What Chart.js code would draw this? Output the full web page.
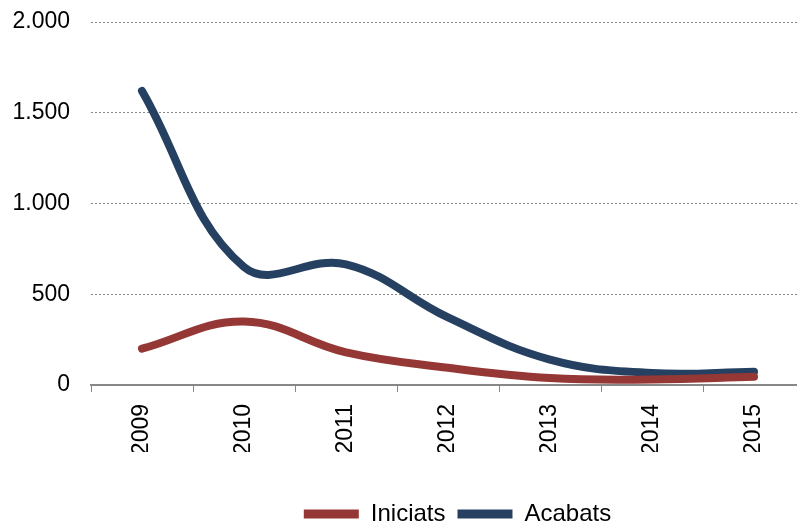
<!DOCTYPE html>
<html>
<head>
<meta charset="utf-8">
<script src="https://cdn.jsdelivr.net/npm/chart.js@4.4.1/dist/chart.umd.min.js"></script>
<style>
    html, body { margin: 0; padding: 0; background: #fff; overflow: hidden; }
    #wrap { position: relative; width: 914px; height: 521px; }
</style>
</head>
<body>
<div id="wrap"><canvas id="lineChart"></canvas></div>
<script>
// dades llegides del gràfic
const years = ['2009', '2010', '2011', '2012', '2013', '2014', '2015'];
const iniciats = [200, 350, 180, 95, 38, 30, 45];
const acabats = [1620, 650, 665, 372, 140, 66, 73];
const yTicks = [0, 500, 1000, 1500, 2000];

function fmtThousands(v) {
    return String(v).replace(/\B(?=(\d{3})+(?!\d))/g, '.');
}

// desplaça la llegenda (centrada respecte l'àrea del gràfic original)
const legendShift = {
    id: 'legendShift',
    afterLayout(chart, args, opts) {
        const lg = chart.legend;
        if (!lg) return;
        lg.left += opts.dx; lg.right += opts.dx;
        lg.top += opts.dy; lg.bottom += opts.dy;
    }
};

document.addEventListener('DOMContentLoaded', function() {
    const ctx = document.getElementById('lineChart').getContext('2d');
    const family = '"Liberation Sans", Arial, sans-serif';
    const font = { family: family, size: 23 };

    new Chart(ctx, {
        type: 'line',
        data: {
            labels: years,
            datasets: [
                {
                    label: 'Iniciats',
                    data: iniciats,
                    borderColor: '#953735',
                    backgroundColor: '#953735',
                    borderWidth: 8,
                    borderCapStyle: 'round',
                    pointRadius: 0,
                    tension: 0.4
                },
                {
                    label: 'Acabats',
                    data: acabats,
                    borderColor: '#254061',
                    backgroundColor: '#254061',
                    borderWidth: 8,
                    borderCapStyle: 'round',
                    pointRadius: 0,
                    tension: 0.4
                }
            ]
        },
        plugins: [legendShift],
        options: {
            responsive: true,
            maintainAspectRatio: false,
            animation: false,
            layout: { padding: { left: 10, right: 109, top: 22, bottom: 23 } },
            plugins: {
                tooltip: { enabled: false },
                legendShift: { dx: 50, dy: 38 },
                legend: {
                    position: 'bottom',
                    labels: {
                        font: { family: family, size: 24 },
                        color: '#000',
                        boxWidth: 55,
                        boxHeight: 9,
                        useBorderRadius: true,
                        borderRadius: 4,
                        padding: 12,
                        generateLabels: function(chart) {
                            return chart.data.datasets.map((ds, i) => ({
                                text: ds.label,
                                fillStyle: ds.borderColor,
                                strokeStyle: ds.borderColor,
                                lineWidth: 0,
                                fontColor: '#000',
                                datasetIndex: i
                            }));
                        }
                    }
                }
            },
            scales: {
                x: {
                    offset: true,
                    afterFit: function(axis) {
                        axis.height = 67;
                        axis.paddingLeft = 0; axis.paddingRight = 0;
                    },
                    grid: { drawOnChartArea: false, drawTicks: true, tickLength: 7, color: '#888', offset: true },
                    border: { display: true, color: '#888', width: 2 },
                    ticks: { font: font, color: '#000', minRotation: 90, maxRotation: 90, padding: 12 }
                },
                y: {
                    min: 0,
                    max: 2000,
                    afterFit: function(axis) {
                        axis.width = 81;
                        axis.paddingTop = 0; axis.paddingBottom = 0;
                    },
                    afterBuildTicks: function(axis) {
                        axis.ticks = yTicks.map(v => ({ value: v }));
                    },
                    grid: { drawTicks: false, color: '#888', lineWidth: 1 },
                    border: { display: false, dash: [2, 2] },
                    ticks: {
                        font: font,
                        color: '#000',
                        padding: 21,
                        callback: function(value) { return fmtThousands(value); }
                    }
                }
            }
        }
    });
});
</script>
</body>
</html>
